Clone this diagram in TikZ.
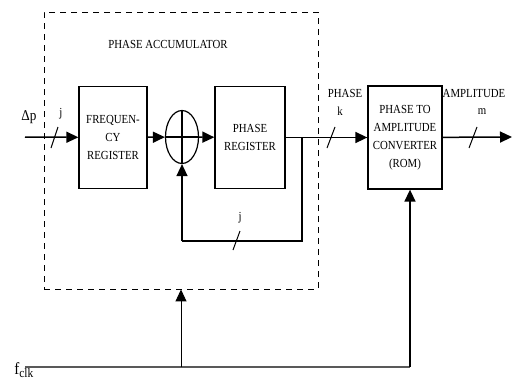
\documentclass[tikz,border=0pt]{standalone}
\usepackage{fontspec}
\setmainfont{Liberation Serif}[FakeStretch=0.88]
\usepackage{tikz}
\usetikzlibrary{arrows.meta,positioning,shapes.geometric,calc}

\begin{document}
\begin{tikzpicture}[
  x=1pt, y=-1pt,
  font=\fontsize{12.3}{18}\selectfont,
  blk/.style={draw, line width=1.3pt, align=center, inner sep=1pt},
  acc/.style={draw, dashed, dash pattern=on 6pt off 5pt, line width=0.9pt, minimum width=274pt, minimum height=277pt},
  adder/.style={draw, ellipse, line width=1.2pt, minimum width=33pt, minimum height=53pt, inner sep=0pt,
    path picture={\draw[line width=1.1pt] (path picture bounding box.north) -- (path picture bounding box.south);}},
  arrow/.style={-{Triangle[length=12pt,width=11pt]}, line width=1.5pt},
  wire/.style={line width=1.5pt},
  clkwire/.style={line width=1.8pt, black!65},
  busmark/.style={line width=1pt}
]
\useasboundingbox (0,0) rectangle (513,388);

% phase accumulator
\node[acc] (accum) at (181,150.5) {};
\node (acctitle) at (168,44) {PHASE ACCUMULATOR};

\node[blk, minimum width=68pt, minimum height=102pt] (freq) at (113,137.5) {FREQUEN-\\CY\\REGISTER};
\node[adder] (sum) at (182,137) {};
\node[blk, minimum width=70pt, minimum height=102pt] (preg) at (250,137.5) {PHASE\\REGISTER};
\node[blk, minimum width=74pt, minimum height=103pt] (rom) at (405,137.5) {PHASE TO\\AMPLITUDE\\CONVERTER\\(ROM)};

% inputs and outputs
\coordinate (in) at (25,137);
\coordinate (out) at (512,137);
\node[font=\fontsize{15}{15}\selectfont] (dp) at (29,117) {Δp};
\node[font=\fontsize{17}{17}\selectfont, inner sep=0pt] (fclk) at (24,370) {f\textsubscript{\fontsize{13}{13}\selectfont clk}};
\coordinate (clk) at (25,367);
\coordinate (clkr) at (410,367);
\coordinate (fbr) at (302,137);
\coordinate (fbrd) at (302,241);
\coordinate (fbl) at (182,241);

\draw[arrow] (in) -- (freq);
\draw[arrow] (freq) -- (sum);
\draw[wire] (sum.west) -- (sum.east);
\draw[arrow] (sum) -- (preg);
\draw[arrow] (preg) -- (rom);
\draw[arrow] (rom) -- (out);
\draw[wire] (fbr) -- (fbrd) -- (fbl);
\draw[arrow] (fbl) -- (sum);

\draw[clkwire] (clk) -- (clkr);
\draw[arrow] (clkr) -- (clkr |- rom.south);
\draw[arrow, line width=1pt] (clk -| accum.south) -- (accum.south);

% bus widths
\draw[busmark] (51,148) -- (58,127);
\node (jin) at (61,114) {j};
\draw[busmark] (233,250) -- (240,231);
\node (jfb) at (240,218) {j};
\draw[busmark] (327,148) -- (335,127);
\node (phk) at (345,93) {PHASE};
\node (kk) at (340,111) {k};
\draw[busmark] (469,148) -- (477,127);
\node (ampl) at (474,93) {AMPLITUDE};
\node (mm) at (482,112) {m};
\end{tikzpicture}
\end{document}
